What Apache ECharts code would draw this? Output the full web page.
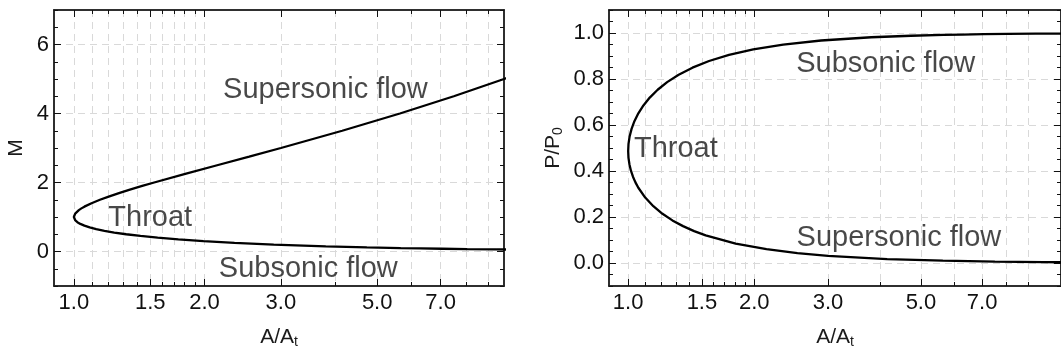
<!DOCTYPE html>
<html>
<head>
<meta charset="utf-8">
<script src="https://cdn.jsdelivr.net/npm/echarts@6/dist/echarts.min.js"></script>
<style>
  html, body { margin: 0; padding: 0; background: #fff; }
  #nozzleChart { width: 1061px; height: 354px; }
</style>
</head>
<body>
<div id="nozzleChart"></div>
<script>
// values, path goes subsonic -> throat -> supersonic
const areaRatio = [12.52, 9.398, 8.062, 7.061, 6.284, 5.663, 4.733, 3.806, 2.888, 2.345, 1.989, 1.741, 1.560, 1.424, 1.320, 1.239, 1.176, 1.126, 1.0875, 1.0576, 1.035, 1.0189, 1.008, 1.0019, 1.0, 1.0018, 1.0071, 1.0154, 1.0268, 1.0408, 1.0575, 1.0983, 1.1484, 1.2076, 1.2754, 1.352, 1.4372, 1.5313, 1.8057, 2.139, 2.5356, 3.0, 4.153, 5.641, 7.508, 9.8, 12.57];
const machNumber = [0.045, 0.06, 0.07, 0.08, 0.09, 0.1, 0.12, 0.15, 0.2, 0.25, 0.3, 0.35, 0.4, 0.45, 0.5, 0.55, 0.6, 0.65, 0.7, 0.75, 0.8, 0.85, 0.9, 0.95, 1.0, 1.05, 1.1, 1.15, 1.2, 1.25, 1.3, 1.4, 1.5, 1.6, 1.7, 1.8, 1.9, 2.0, 2.25, 2.5, 2.75, 3.0, 3.5, 4.0, 4.5, 5.0, 5.5];
const pressureRatio = [0.9983, 0.9970, 0.9959, 0.9947, 0.9933, 0.9917, 0.9881, 0.9815, 0.9674, 0.9498, 0.9288, 0.9048, 0.8782, 0.8493, 0.8187, 0.7865, 0.7533, 0.7193, 0.6851, 0.6508, 0.6167, 0.5831, 0.5502, 0.5182, 0.4871, 0.4573, 0.4286, 0.4013, 0.3753, 0.3506, 0.3273, 0.2845, 0.2469, 0.2139, 0.1852, 0.1603, 0.1388, 0.1202, 0.0845, 0.0599, 0.0430, 0.0313, 0.0172, 0.0099, 0.0060, 0.0038, 0.0024];

const xMajorTicks = [1, 1.5, 2, 3, 5, 7];
const xMinorTicks = [1.1, 1.2, 1.3, 1.4, 1.6, 1.7, 1.8, 1.9, 4, 6, 8, 9];
const machTicks = [0, 2, 4, 6];
const pressureTicks = [0, 0.2, 0.4, 0.6, 0.8, 1.0];

const machNotes = [[3.8, 4.68, "Supersonic flow"], [1.5, 0.98, "Throat"], [3.47, -0.5, "Subsonic flow"]];
const pressureNotes = [[4.12, 0.866, "Subsonic flow"], [1.3, 0.495, "Throat"], [4.43, 0.108, "Supersonic flow"]];

const FONT = "Liberation Sans, Arial, sans-serif";
const gridLine = { show: true, lineStyle: { color: "#d9d9d9", width: 1, type: [7, 5] } };
const frameLine = { onZero: false, lineStyle: { color: "#222", width: 1.5 } };
const tickLine = { color: "#111", width: 1 };
const nameRich = {
	n: { fontSize: 21, lineHeight: 24, color: "#1a1a1a", fontFamily: FONT },
	s: { fontSize: 14, lineHeight: 11, verticalAlign: "bottom", color: "#1a1a1a", fontFamily: FONT },
};

// 4 x-axes per grid: labelled bottom, minor bottom, and the mirrored ticks on top
function makeXAxes(grid, max, name) {
	const base = { gridIndex: grid, type: "log", logBase: 10, min: 0.9, max: max, axisLine: frameLine, axisLabel: { show: false }, splitLine: { show: false } };
	const major = { inside: true, length: 7, customValues: xMajorTicks, lineStyle: tickLine };
	const minor = { inside: true, length: 4, customValues: xMinorTicks, lineStyle: tickLine };
	return [
		{
			...base,
			position: "bottom",
			name: name,
			nameLocation: "middle",
			nameGap: 39,
			nameTextStyle: { rich: nameRich },
			axisLabel: { show: true, customValues: xMajorTicks, formatter: (v) => Number(v).toFixed(1), fontSize: 22, color: "#111", fontFamily: FONT, margin: 6 },
			axisTick: major,
			splitLine: gridLine,
		},
		{ ...base, position: "bottom", axisTick: minor, splitLine: gridLine },
		{ ...base, position: "top", axisTick: major },
		{ ...base, position: "top", axisTick: minor },
	];
}

function makeYAxes(grid, min, max, majors, minorStep, digits, name, gap) {
	const base = { gridIndex: grid, type: "value", min: min, max: max, axisLine: frameLine, axisLabel: { show: false }, splitLine: { show: false } };
	const major = { inside: true, length: 7, customValues: majors, lineStyle: tickLine };
	const minor = { inside: true, length: 4, lineStyle: tickLine };
	return [
		{
			...base,
			position: "left",
			name: name,
			nameLocation: "middle",
			nameGap: gap,
			nameTextStyle: { rich: nameRich },
			axisLabel: { show: true, customValues: majors, formatter: (v) => Number(v).toFixed(digits), fontSize: 22, color: "#111", fontFamily: FONT, margin: 5 },
			axisTick: major,
			splitLine: gridLine,
		},
		{ ...base, position: "left", interval: minorStep, axisTick: minor },
		{ ...base, position: "right", axisTick: major },
		{ ...base, position: "right", interval: minorStep, axisTick: minor },
	];
}

function curve(grid, values) {
	return {
		type: "line",
		xAxisIndex: grid * 4,
		yAxisIndex: grid * 4,
		data: areaRatio.map((a, i) => [a, values[i]]),
		showSymbol: false,
		clip: true,
		lineStyle: { color: "#000", width: 2.3 },
		z: 5,
	};
}

function notes(grid, list) {
	return {
		type: "scatter",
		xAxisIndex: grid * 4,
		yAxisIndex: grid * 4,
		data: list,
		symbolSize: 0,
		silent: true,
		label: { show: true, position: "inside", formatter: (p) => p.data[2], fontSize: 29, color: "#1a1a1a", fontFamily: FONT },
		z: 6,
	};
}

const nozzleChart = echarts.init(document.getElementById("nozzleChart"));
const option = {
	animation: false,
	backgroundColor: "#fff",
	textStyle: { fontFamily: FONT },
	grid: [
		{ left: 54, top: 10, width: 450, height: 282 },
		{ left: 609, top: 10, width: 465, height: 282 },
	],
	xAxis: [...makeXAxes(0, 9.8, "{n|A/A}{s|t}"), ...makeXAxes(1, 10.8, "{n|A/A}{s|t}")],
	yAxis: [...makeYAxes(0, -1, 7, machTicks, 0.5, 0, "{n|M}", 26), ...makeYAxes(1, -0.1, 1.1, pressureTicks, 0.05, 1, "{n|P/P}{s|0}", 44)],
	series: [curve(0, machNumber), curve(1, pressureRatio), notes(0, machNotes), notes(1, pressureNotes)],
};
nozzleChart.setOption(option, true);
</script>
</body>
</html>
